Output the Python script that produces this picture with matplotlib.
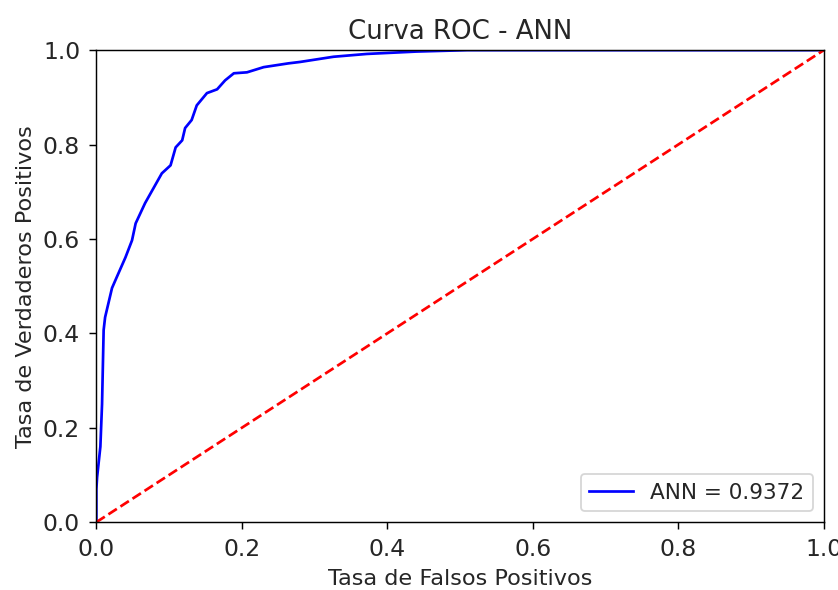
import matplotlib
matplotlib.use("Agg")
import matplotlib.pyplot as plt

# ROC curve points
fpr = [0.0, 0.0, 0.001, 0.0055, 0.0078, 0.010, 0.012, 0.0215, 0.028, 0.040,
       0.049, 0.054, 0.067, 0.090, 0.102, 0.109, 0.118, 0.122, 0.131, 0.138,
       0.152, 0.166, 0.177, 0.189, 0.207, 0.230, 0.264, 0.280, 0.326, 0.372,
       0.44, 0.51, 1.0]
tpr = [0.0, 0.07, 0.095, 0.16, 0.25, 0.407, 0.434, 0.496, 0.519, 0.561,
       0.597, 0.633, 0.676, 0.739, 0.756, 0.794, 0.809, 0.835, 0.852, 0.883,
       0.909, 0.917, 0.936, 0.951, 0.953, 0.964, 0.972, 0.975, 0.986, 0.992,
       0.997, 1.0, 1.0]
auc_value = 0.9372

plt.rcParams["font.size"] = 12
plt.rcParams["text.color"] = "#262626"
plt.rcParams["xtick.labelcolor"] = "#262626"
plt.rcParams["ytick.labelcolor"] = "#262626"
plt.rcParams["axes.labelcolor"] = "#262626"
plt.rcParams["xtick.labelsize"] = 13
plt.rcParams["ytick.labelsize"] = 13
plt.rcParams["xtick.major.pad"] = 5
plt.rcParams["ytick.major.pad"] = 5
plt.rcParams["xtick.major.size"] = 4
plt.rcParams["ytick.major.size"] = 4

fig = plt.figure(figsize=(838 / 130, 590 / 130), dpi=130)
plt.subplots_adjust(left=0.115, right=0.983, top=0.915, bottom=0.115)
plt.title("Curva ROC - ANN", fontsize=14.4)
plt.plot(fpr, tpr, "b", label="ANN = %0.4f" % auc_value)
plt.legend(loc="lower right")
plt.plot([0, 1], [0, 1], "r--")
plt.xlim([0, 1])
plt.ylim([0, 1])
plt.ylabel("Tasa de Verdaderos Positivos", fontsize=12.4)
plt.xlabel("Tasa de Falsos Positivos", fontsize=12.4)
plt.savefig("out.png", dpi=130)
